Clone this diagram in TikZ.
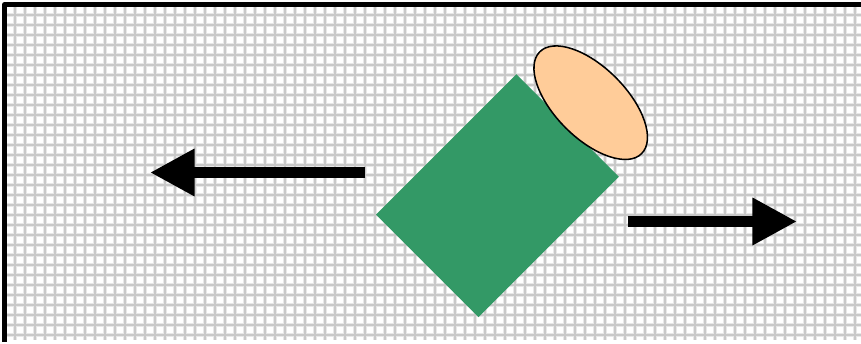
\documentclass[tikz,border=0pt]{standalone}
\usetikzlibrary{arrows.meta}
\definecolor{seagreen}{RGB}{51,153,102}
\definecolor{peach}{RGB}{255,204,153}
\begin{document}
\begin{tikzpicture}[line join=round,x=0.03cm,y=0.03cm,
  gridhalo/.style={line width=2.6pt, black!9},
  gridline/.style={line width=1.1pt, black!21},
  bigarrow/.style={line width=9.4pt, -{Triangle[length=38pt,width=38pt]}}]
\def \xmin{4.5};
\def \xmax{861};
\def \ymin{4};
\def \ymax{339.5};
\useasboundingbox (0,0) rectangle (861,344);
\fill[white] (0,0) rectangle (861,344);
% grid
\foreach \x in {15,25,...,855}{\draw[gridhalo] (\x,\ymin) -- (\x,\ymax);}
\foreach \y in {9,19,...,329}{\draw[gridhalo] (\xmin,\y) -- (\xmax,\y);}
\foreach \x in {15,25,...,855}{\draw[gridline] (\x,\ymin) -- (\x,\ymax);}
\foreach \y in {9,19,...,329}{\draw[gridline] (\xmin,\y) -- (\xmax,\y);}
\draw[line width=3.6pt, line cap=rect] (\xmin,\ymin) -- (\xmin,\ymax) -- (\xmax,\ymax);
% arrows
\draw[bigarrow] (365,171.5) -- (150,171.5);
\draw[bigarrow] (628,122.5) -- (797,122.5);
% body and cap
\fill[seagreen, shift={(497.5,148.3)}, rotate=45] (-99.25,-72.5) rectangle (99.25,72.5);
\draw[fill=peach, line width=1.3pt, shift={(590.7,241.3)}, rotate=-45] (0,0) ellipse [x radius=72, y radius=35.5];
\end{tikzpicture}
\end{document}
